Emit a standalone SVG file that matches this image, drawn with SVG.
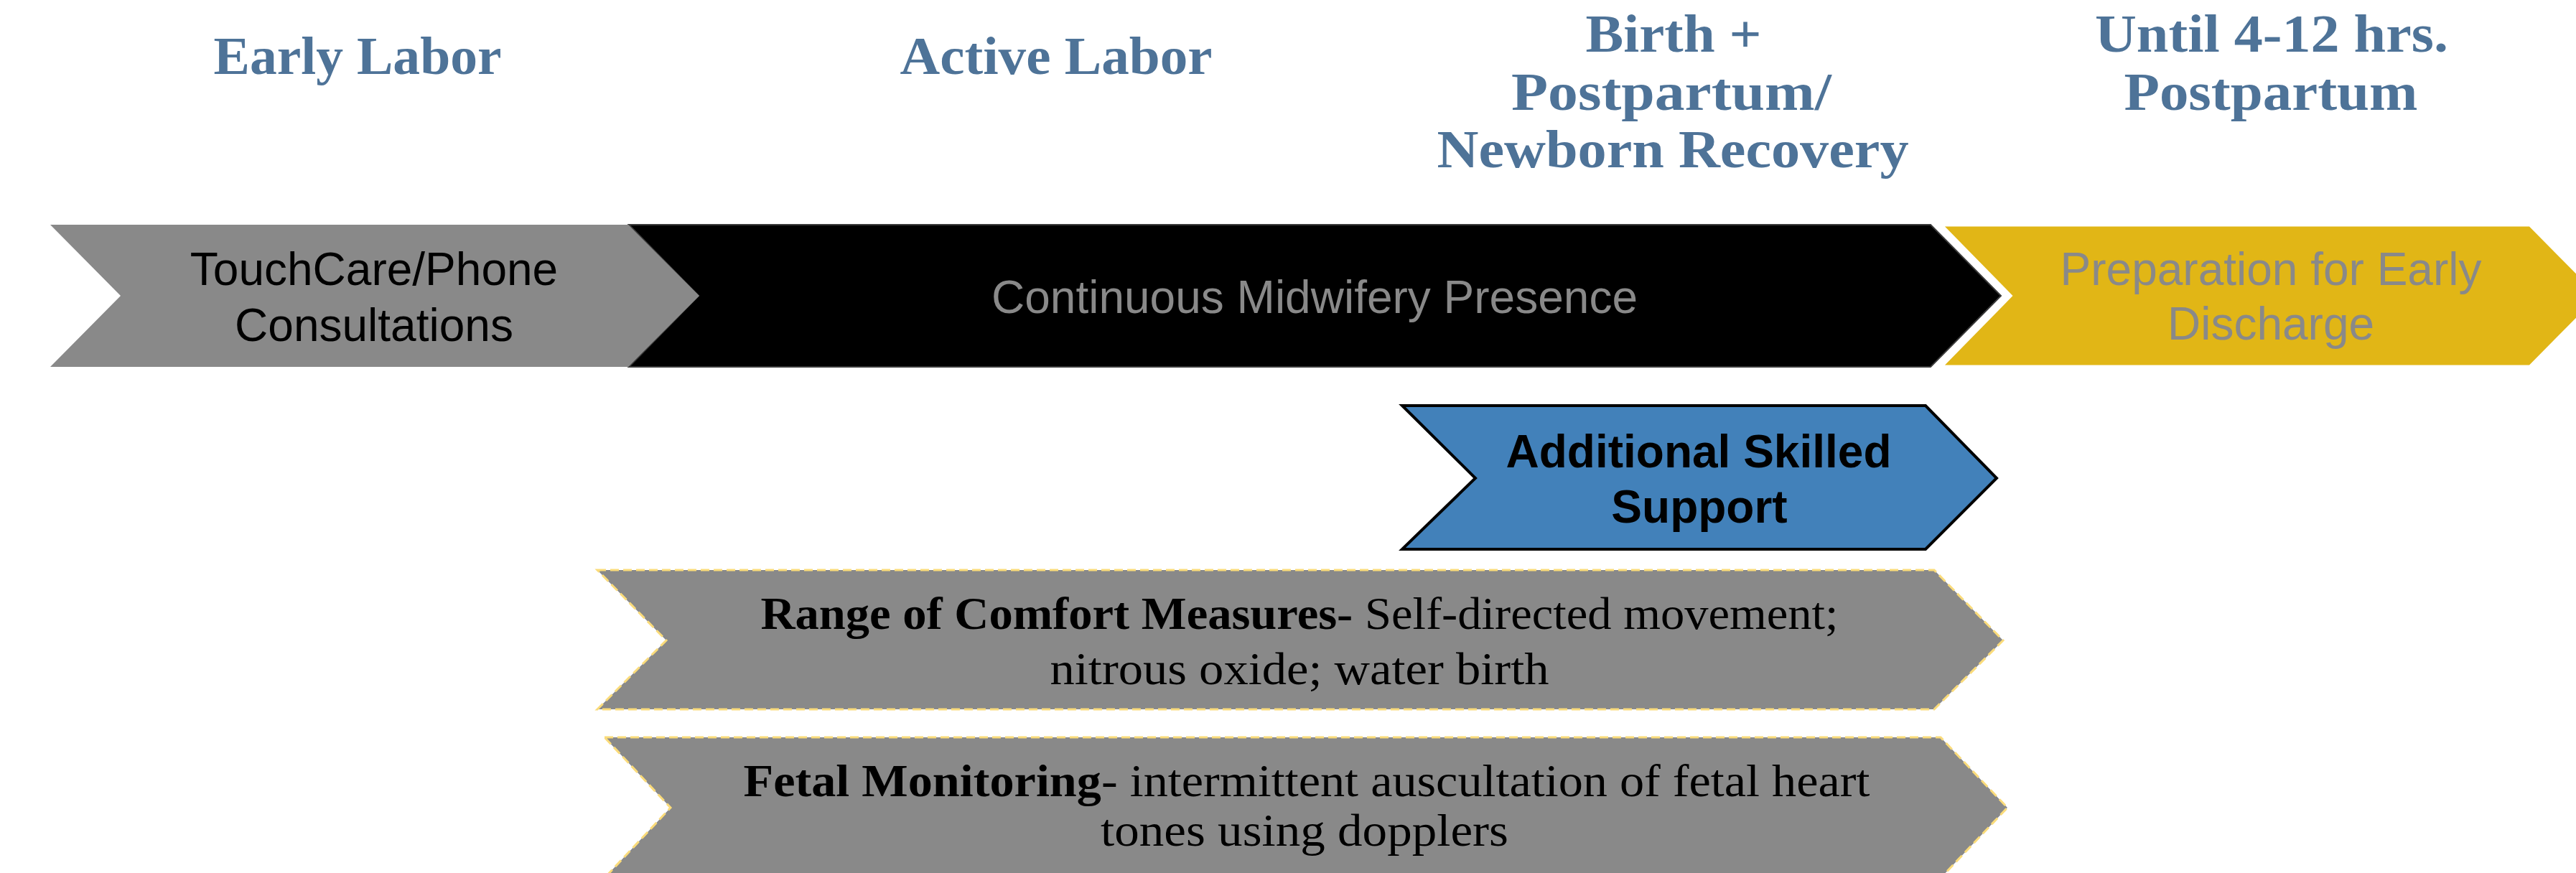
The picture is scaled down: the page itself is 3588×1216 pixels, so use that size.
<svg xmlns="http://www.w3.org/2000/svg" width="3588" height="1216" viewBox="0 0 3588 1216">
  <style>
    .hdr { font-family: "Liberation Serif", "Times New Roman", serif; font-weight: bold; font-size: 74px; fill: #4E7398; text-anchor: middle; }
    .sans { font-family: "Liberation Sans", Arial, sans-serif; font-size: 64px; text-anchor: middle; }
    .serif { font-family: "Liberation Serif", "Times New Roman", serif; font-size: 64px; fill: #000; text-anchor: middle; }
    .b { font-weight: bold; }
    .gray { fill: #898989; }
    .band { fill: #898989; stroke: #FADB7A; stroke-width: 3; stroke-dasharray: 12 6; }
  </style>

  <rect width="3588" height="1216" fill="#ffffff"/>

  <!-- phase headings -->
  <g id="headings">
    <text class="hdr" x="498" y="103" textLength="401" lengthAdjust="spacingAndGlyphs">Early Labor</text>
    <text class="hdr" x="1471" y="103" textLength="435" lengthAdjust="spacingAndGlyphs">Active Labor</text>
    <text class="hdr" x="2331" y="72" textLength="245" lengthAdjust="spacingAndGlyphs">Birth +</text>
    <text class="hdr" x="2328" y="153" textLength="446" lengthAdjust="spacingAndGlyphs">Postpartum/</text>
    <text class="hdr" x="2330" y="233" textLength="657" lengthAdjust="spacingAndGlyphs">Newborn Recovery</text>
    <text class="hdr" x="3164" y="72" textLength="492" lengthAdjust="spacingAndGlyphs">Until 4-12 hrs.</text>
    <text class="hdr" x="3163" y="153" textLength="409" lengthAdjust="spacingAndGlyphs">Postpartum</text>
  </g>

  <!-- top row of chevrons -->
  <g id="midwifery">
    <polygon points="876,313 2689,313 2787,412 2689,511 876,511 973,412" fill="#000000" stroke="#3a3a3a" stroke-width="2"/>
    <text class="sans gray" x="1831" y="436">Continuous Midwifery Presence</text>
  </g>

  <g id="touchcare">
    <polygon points="70,313 875,313 974,412 875,511 70,511 168,412" fill="#898989"/>
    <text class="sans" x="521" y="397" fill="#000">TouchCare/Phone</text>
    <text class="sans" x="521" y="475" fill="#000">Consultations</text>
  </g>

  <g id="discharge">
    <polygon points="2703,313 3524,313 3622,412 3524,511 2703,511 2800,412" fill="#E1B616" stroke="#ffffff" stroke-width="5"/>
    <text class="sans gray" x="3163" y="397">Preparation for Early</text>
    <text class="sans gray" x="3163" y="473">Discharge</text>
  </g>

  <!-- skilled support -->
  <g id="skilled-support">
    <polygon points="1953,565 2682,565 2781,666 2682,765 1953,765 2055,666" fill="#4281BA" stroke="#000000" stroke-width="4"/>
    <text class="sans b" x="2366" y="651" fill="#000">Additional Skilled</text>
    <text class="sans b" x="2367" y="728" fill="#000">Support</text>
  </g>

  <!-- comfort measures -->
  <g id="comfort">
    <polygon class="band" points="832,794 2694,794 2790,892 2694,988 832,988 928,892"/>
    <text class="serif" x="1810" y="876" textLength="1501" lengthAdjust="spacingAndGlyphs"><tspan class="b">Range of Comfort Measures-</tspan> Self-directed movement;</text>
    <text class="serif" x="1810" y="953" textLength="695" lengthAdjust="spacingAndGlyphs">nitrous oxide; water birth</text>
  </g>

  <!-- fetal monitoring -->
  <g id="fetal">
    <polygon class="band" points="842,1027 2703,1027 2796,1125 2703,1223 842,1223 934,1125"/>
    <text class="serif" x="1820" y="1109" textLength="1569" lengthAdjust="spacingAndGlyphs"><tspan class="b">Fetal Monitoring</tspan>- intermittent auscultation of fetal heart</text>
    <text class="serif" x="1817" y="1178" textLength="568" lengthAdjust="spacingAndGlyphs">tones using dopplers</text>
  </g>

  <g id="connectors"></g>
</svg>
